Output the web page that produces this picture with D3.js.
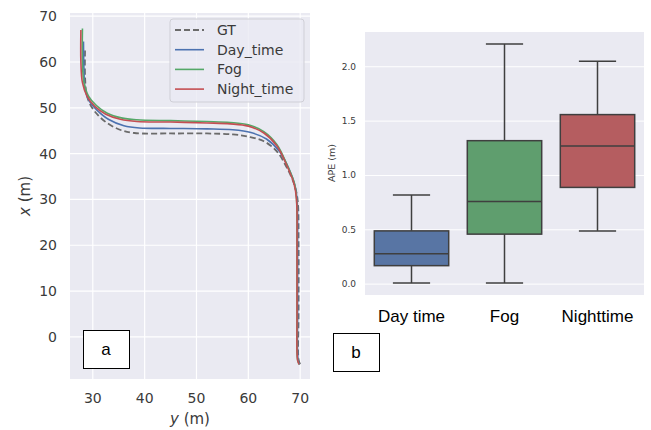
<!DOCTYPE html>
<html>
<head>
<meta charset="utf-8">
<script src="https://cdn.jsdelivr.net/npm/d3@7"></script>
<style>
  body { margin: 0; background: #fff; }
  svg { display: block; }
</style>
</head>
<body>
<div id="container"></div>
<script>
// panel a: trajectories, each point is [y (m), x (m)]
const gtPath = [[28.5, 62.5], [28.5, 57], [28.8, 53], [29.6, 50.5], [31, 48.4], [33, 46.5], [35.5, 45.1], [38, 44.5], [45, 44.4], [52, 44.4], [57, 44.2], [60, 43.7], [63, 42.7], [65.5, 40.5], [67.4, 37], [68.8, 33.5], [69.5, 30], [69.7, 20], [69.7, 5], [69.7, -5], [70.0, -6]];
const dayPath = [[28.2, 64.5], [28.3, 58], [28.5, 54], [29.3, 51.5], [30.8, 49.5], [33, 47.5], [36, 46.1], [39, 45.6], [45, 45.5], [52, 45.4], [57, 45.2], [60.5, 44.6], [63.5, 43.2], [66, 40.5], [67.9, 36.5], [69.0, 33], [69.4, 30], [69.5, 20], [69.5, 5], [69.6, -5], [69.9, -6]];
const fogPath = [[28.0, 67.3], [28.0, 60], [28.3, 55.5], [29.2, 52.5], [30.7, 50.5], [32.8, 48.8], [35.5, 47.8], [38.5, 47.4], [45, 47.2], [52, 47.0], [56.5, 46.8], [60, 46.3], [63, 44.8], [65.5, 42], [67.5, 37.5], [68.9, 33.5], [69.3, 30], [69.4, 20], [69.4, 5], [69.5, -5], [69.8, -6]];
const nightPath = [[27.7, 67.0], [27.7, 60], [28.0, 55.5], [28.9, 52.5], [30.4, 50.3], [32.5, 48.6], [35.3, 47.5], [38.5, 47.0], [45, 46.9], [52, 46.7], [56.5, 46.5], [60, 46.0], [63, 44.5], [65.5, 41.7], [67.4, 37.5], [68.8, 33.5], [69.3, 30], [69.4, 20], [69.4, 5], [69.5, -5], [69.8, -6]];
const seriesNames = ['GT', 'Day_time', 'Fog', 'Night_time'];
const seriesColors = ['#6b6b6b', '#4c72b0', '#55a868', '#c44e52'];
const trajTicksY = [30, 40, 50, 60, 70];
const trajTicksX = [0, 10, 20, 30, 40, 50, 60, 70];

// panel b: APE box plot
const boxCategories = ['Day time', 'Fog', 'Nighttime'];
const whiskerLow = [0.01, 0.01, 0.49];
const q1 = [0.17, 0.46, 0.89];
const medians = [0.28, 0.76, 1.27];
const q3 = [0.49, 1.32, 1.56];
const whiskerHigh = [0.82, 2.21, 2.05];
const boxColors = ['#5875a4', '#5f9e6e', '#b55d60'];
const apeTicks = [0.0, 0.5, 1.0, 1.5, 2.0];

const svg = d3.select('#container').append('svg')
  .attr('width', 651).attr('height', 430);
svg.append('rect').attr('width', 651).attr('height', 430).attr('fill', '#fff');

const bg = '#eaeaf2';
const tickColor = '#3a3a3a';

// ---------- panel a ----------
const ax = d3.scaleLinear().domain([25.6, 71.9]).range([70, 310]);
const ay = d3.scaleLinear().domain([-9.2, 70.7]).range([379, 13]);

svg.append('rect')
  .attr('x', 70).attr('y', 13).attr('width', 240).attr('height', 366)
  .attr('fill', bg);

const gA = svg.append('g');
gA.selectAll('line.vg').data(trajTicksY).join('line')
  .attr('x1', d => ax(d)).attr('x2', d => ax(d))
  .attr('y1', 13).attr('y2', 379)
  .attr('stroke', '#fff').attr('stroke-width', 1.2);
gA.selectAll('line.hg').data(trajTicksX).join('line')
  .attr('y1', d => ay(d)).attr('y2', d => ay(d))
  .attr('x1', 70).attr('x2', 310)
  .attr('stroke', '#fff').attr('stroke-width', 1.2);

gA.selectAll('text.tx').data(trajTicksY).join('text')
  .attr('x', d => ax(d)).attr('y', 403)
  .attr('text-anchor', 'middle')
  .attr('font-family', 'DejaVu Sans').attr('font-size', 14)
  .attr('fill', tickColor)
  .text(d => d);
gA.selectAll('text.ty').data(trajTicksX).join('text')
  .attr('x', 57).attr('y', d => ay(d) + 5)
  .attr('text-anchor', 'end')
  .attr('font-family', 'DejaVu Sans').attr('font-size', 14)
  .attr('fill', tickColor)
  .text(d => d);

const yLabel = svg.append('text')
  .attr('x', 190).attr('y', 424)
  .attr('text-anchor', 'middle')
  .attr('font-family', 'DejaVu Sans').attr('font-size', 15)
  .attr('fill', tickColor);
yLabel.append('tspan').attr('font-style', 'italic').text('y');
yLabel.append('tspan').text(' (m)');

const xLabel = svg.append('text')
  .attr('transform', 'translate(30,196) rotate(-90)')
  .attr('text-anchor', 'middle')
  .attr('font-family', 'DejaVu Sans').attr('font-size', 15)
  .attr('fill', tickColor);
xLabel.append('tspan').attr('font-style', 'italic').text('x');
xLabel.append('tspan').text(' (m)');

const line = d3.line()
  .x(d => ax(d[0]))
  .y(d => ay(d[1]))
  .curve(d3.curveCatmullRom.alpha(0.5));

const paths = [gtPath, dayPath, fogPath, nightPath];
paths.forEach((p, i) => {
  gA.append('path')
    .attr('d', line(p))
    .attr('fill', 'none')
    .attr('stroke', seriesColors[i])
    .attr('stroke-width', i === 0 ? 1.8 : 1.6)
    .attr('stroke-dasharray', i === 0 ? '6,3' : null);
});

// legend
const legend = svg.append('g');
legend.append('rect')
  .attr('x', 170).attr('y', 19).attr('width', 134).attr('height', 83)
  .attr('rx', 3)
  .attr('fill', bg).attr('fill-opacity', 0.8)
  .attr('stroke', '#cfcfd6');
seriesNames.forEach((name, i) => {
  const ly = 30 + i * 19.7;
  legend.append('line')
    .attr('x1', 175).attr('x2', 204).attr('y1', ly).attr('y2', ly)
    .attr('stroke', seriesColors[i])
    .attr('stroke-width', i === 0 ? 1.8 : 1.6)
    .attr('stroke-dasharray', i === 0 ? '6,3' : null);
  legend.append('text')
    .attr('x', 217).attr('y', ly + 5)
    .attr('font-family', 'DejaVu Sans').attr('font-size', 14)
    .attr('fill', tickColor)
    .text(name);
});

// label box a
svg.append('rect')
  .attr('x', 83.5).attr('y', 330.5).attr('width', 46).attr('height', 38)
  .attr('fill', '#fff').attr('stroke', '#000');
svg.append('text')
  .attr('x', 106).attr('y', 355)
  .attr('text-anchor', 'middle')
  .attr('font-family', 'Liberation Sans').attr('font-size', 17)
  .text('a');

// ---------- panel b ----------
const bx = d3.scaleBand().domain(boxCategories).range([365, 644]);
const by = d3.scaleLinear().domain([-0.1, 2.32]).range([295, 32]);

svg.append('rect')
  .attr('x', 365).attr('y', 32).attr('width', 279).attr('height', 263)
  .attr('fill', bg);

const gB = svg.append('g');
gB.selectAll('line.g').data(apeTicks).join('line')
  .attr('x1', 365).attr('x2', 644)
  .attr('y1', d => by(d)).attr('y2', d => by(d))
  .attr('stroke', '#fff').attr('stroke-width', 1);
gB.selectAll('text.t').data(apeTicks).join('text')
  .attr('x', 356).attr('y', d => by(d) + 3)
  .attr('text-anchor', 'end')
  .attr('font-family', 'DejaVu Sans').attr('font-size', 9)
  .attr('fill', tickColor)
  .text(d => d.toFixed(1));

svg.append('text')
  .attr('transform', 'translate(335,163) rotate(-90)')
  .attr('text-anchor', 'middle')
  .attr('font-family', 'DejaVu Sans').attr('font-size', 9.5)
  .attr('fill', tickColor)
  .text('APE (m)');

const boxW = bx.bandwidth() * 0.8;
const edge = '#3f3f3f';
boxCategories.forEach((c, i) => {
  const cx = bx(c) + bx.bandwidth() / 2;
  const g = gB.append('g');
  g.append('line')
    .attr('x1', cx).attr('x2', cx)
    .attr('y1', by(whiskerLow[i])).attr('y2', by(q1[i]))
    .attr('stroke', edge).attr('stroke-width', 1.5);
  g.append('line')
    .attr('x1', cx).attr('x2', cx)
    .attr('y1', by(q3[i])).attr('y2', by(whiskerHigh[i]))
    .attr('stroke', edge).attr('stroke-width', 1.5);
  [whiskerLow[i], whiskerHigh[i]].forEach(v => {
    g.append('line')
      .attr('x1', cx - boxW / 4).attr('x2', cx + boxW / 4)
      .attr('y1', by(v)).attr('y2', by(v))
      .attr('stroke', edge).attr('stroke-width', 1.5);
  });
  g.append('rect')
    .attr('x', cx - boxW / 2).attr('y', by(q3[i]))
    .attr('width', boxW).attr('height', by(q1[i]) - by(q3[i]))
    .attr('fill', boxColors[i])
    .attr('stroke', edge).attr('stroke-width', 1.5);
  g.append('line')
    .attr('x1', cx - boxW / 2).attr('x2', cx + boxW / 2)
    .attr('y1', by(medians[i])).attr('y2', by(medians[i]))
    .attr('stroke', edge).attr('stroke-width', 1.5);
  svg.append('text')
    .attr('x', cx).attr('y', 322)
    .attr('text-anchor', 'middle')
    .attr('font-family', 'Liberation Sans').attr('font-size', 17)
    .attr('fill', '#000')
    .text(c);
});

// label box b
svg.append('rect')
  .attr('x', 333.5).attr('y', 333.5).attr('width', 46).attr('height', 38)
  .attr('fill', '#fff').attr('stroke', '#000');
svg.append('text')
  .attr('x', 356).attr('y', 358)
  .attr('text-anchor', 'middle')
  .attr('font-family', 'Liberation Sans').attr('font-size', 17)
  .text('b');
</script>
</body>
</html>
